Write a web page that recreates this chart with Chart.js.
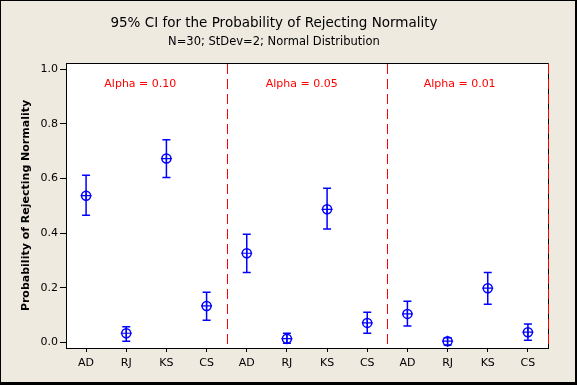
<!DOCTYPE html>
<html>
<head>
<meta charset="utf-8">
<script src="https://cdn.jsdelivr.net/npm/chart.js@4/dist/chart.umd.min.js"></script>
<style>
  html, body { margin: 0; padding: 0; background: #EEEAE0; }
  #wrap { width: 577px; height: 385px; }
</style>
</head>
<body>
<div id="wrap"><canvas id="c" width="577" height="385"></canvas></div>
<script>
// ---- Data ----
const methods = ['AD', 'RJ', 'KS', 'CS'];
const tickLabels = ['AD', 'RJ', 'KS', 'CS', 'AD', 'RJ', 'KS', 'CS', 'AD', 'RJ', 'KS', 'CS'];
const alphaLabels = ['Alpha = 0.10', 'Alpha = 0.05', 'Alpha = 0.01'];
const estimates = [0.537, 0.033, 0.673, 0.133, 0.326, 0.013, 0.487, 0.071, 0.104, 0.004, 0.198, 0.037];
const lowerCI   = [0.465, 0.004, 0.604, 0.081, 0.256, -0.004, 0.415, 0.033, 0.060, -0.010, 0.139, 0.007];
const upperCI   = [0.612, 0.057, 0.742, 0.183, 0.396, 0.033, 0.564, 0.110, 0.150, 0.017, 0.256, 0.067];
const dividerPositions = [3.5, 7.5, 11.5];
const alphaLabelX = [1.35, 5.37, 9.3];
const alphaLabelY = 0.945;
const yTickValues = [0, 0.2, 0.4, 0.6, 0.8, 1.0];

const BG = '#EEEAE0';
const BLUE = '#0000FF';
const RED = '#FF0000';
const FONT = "'DejaVu Sans', Tahoma, sans-serif";

const points = estimates.map((v, i) => ({ x: i, y: v }));

const decorPlugin = {
  id: 'decor',
  beforeDraw(chart) {
    const ctx = chart.ctx;
    ctx.save();
    ctx.fillStyle = BG;
    ctx.fillRect(0, 0, chart.width, chart.height);
    const a = chart.chartArea;
    ctx.fillStyle = '#FFFFFF';
    ctx.fillRect(a.left, a.top, a.right - a.left, a.bottom - a.top);
    ctx.restore();
  },
  beforeDatasetsDraw(chart) {
    const ctx = chart.ctx;
    const xs = chart.scales.x, ys = chart.scales.y;
    const a = chart.chartArea;
    ctx.save();
    // frame (top and right)
    ctx.strokeStyle = '#000';
    ctx.lineWidth = 1;
    ctx.beginPath();
    ctx.moveTo(a.left, a.top + 0.5);
    ctx.lineTo(a.right + 0.5, a.top + 0.5);
    ctx.lineTo(a.right + 0.5, a.bottom);
    ctx.stroke();
    // red dashed dividers
    ctx.strokeStyle = RED;
    ctx.lineWidth = 1;
    ctx.setLineDash([10, 5]);
    dividerPositions.forEach(p => {
      const x = Math.round(xs.getPixelForValue(p)) + 0.5;
      ctx.beginPath();
      ctx.moveTo(x, a.top + 1);
      ctx.lineTo(x, a.bottom);
      ctx.stroke();
    });
    ctx.setLineDash([]);
    // alpha labels
    ctx.fillStyle = RED;
    ctx.font = "11px " + FONT;
    ctx.textAlign = 'center';
    ctx.textBaseline = 'middle';
    alphaLabels.forEach((t, i) => {
      ctx.fillText(t, xs.getPixelForValue(alphaLabelX[i]), ys.getPixelForValue(alphaLabelY));
    });
    // error bars
    ctx.strokeStyle = BLUE;
    ctx.lineWidth = 1.5;
    estimates.forEach((v, i) => {
      const x = xs.getPixelForValue(i);
      const yl = ys.getPixelForValue(lowerCI[i]);
      const yu = ys.getPixelForValue(upperCI[i]);
      ctx.beginPath();
      ctx.moveTo(x, yl); ctx.lineTo(x, yu);
      ctx.moveTo(x - 4, yl); ctx.lineTo(x + 4, yl);
      ctx.moveTo(x - 4, yu); ctx.lineTo(x + 4, yu);
      ctx.stroke();
    });
    ctx.restore();
  },
  afterDraw(chart) {
    const ctx = chart.ctx;
    ctx.save();
    ctx.fillStyle = '#000';
    ctx.fillRect(0, 0, chart.width, 1);
    ctx.fillRect(0, 0, 1, chart.height);
    ctx.fillRect(chart.width - 2, 0, 2, chart.height);
    ctx.fillRect(0, chart.height - 3, chart.width, 3);
    ctx.restore();
  }
};

new Chart(document.getElementById('c'), {
  type: 'scatter',
  data: {
    datasets: [
      {
        label: 'Estimate',
        data: points,
        pointStyle: 'circle',
        radius: 4.5,
        hoverRadius: 4.5,
        borderColor: BLUE,
        backgroundColor: 'rgba(0,0,0,0)',
        borderWidth: 1.5
      },
      {
        label: 'Estimate cross',
        data: points,
        pointStyle: 'cross',
        radius: 5.5,
        hoverRadius: 5.5,
        borderColor: BLUE,
        backgroundColor: BLUE,
        borderWidth: 1.2
      }
    ]
  },
  options: {
    responsive: false,
    animation: false,
    devicePixelRatio: 1,
    layout: { padding: { left: 0, right: 29, top: 0, bottom: 0 } },
    plugins: {
      legend: { display: false },
      tooltip: { enabled: false },
      title: {
        display: true,
        text: '95% CI for the Probability of Rejecting Normality',
        color: '#000',
        font: { family: FONT, size: 13.5, weight: 'normal' },
        padding: { top: 15, bottom: 0 }
      },
      subtitle: {
        display: true,
        text: 'N=30; StDev=2; Normal Distribution',
        color: '#000',
        font: { family: FONT, size: 11.5, weight: 'normal' },
        padding: { top: 4, bottom: 14 }
      }
    },
    scales: {
      x: {
        type: 'linear',
        min: -0.5,
        max: 11.5,
        afterBuildTicks: (s) => { s.ticks = tickLabels.map((_, i) => ({ value: i })); },
        afterFit: (s) => { s.height = 37; },
        ticks: {
          autoSkip: false,
          maxRotation: 0,
          padding: 5,
          color: '#000',
          font: { family: FONT, size: 11 },
          callback: (v) => tickLabels[v]
        },
        grid: { display: true, drawOnChartArea: false, drawTicks: true, tickLength: 4, color: '#000' },
        border: { display: true, color: '#000', width: 1 }
      },
      y: {
        type: 'linear',
        min: -0.021,
        max: 1.023,
        afterBuildTicks: (s) => { s.ticks = yTickValues.map(v => ({ value: v })); },
        afterFit: (s) => { s.width = 66; },
        ticks: {
          padding: 2,
          color: '#000',
          font: { family: FONT, size: 11 },
          callback: (v) => Number(v).toFixed(1)
        },
        title: {
          display: true,
          text: 'Probability of Rejecting Normality',
          color: '#000',
          font: { family: FONT, size: 11, weight: 'bold' },
          padding: { top: 20, bottom: 0 }
        },
        grid: { display: true, drawOnChartArea: false, drawTicks: true, tickLength: 6, color: '#000' },
        border: { display: true, color: '#000', width: 1 }
      }
    }
  },
  plugins: [decorPlugin]
});
</script>
</body>
</html>
